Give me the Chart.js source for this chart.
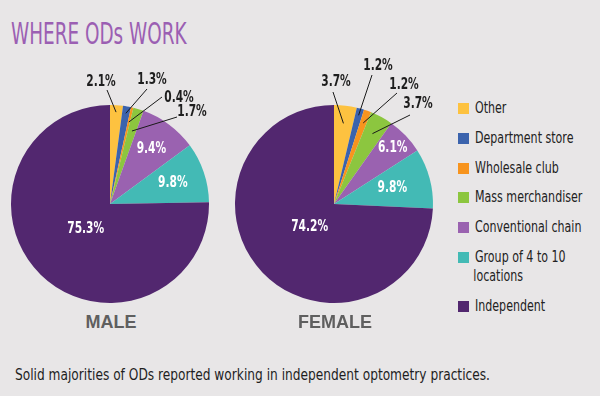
<!DOCTYPE html>
<html>
<head>
<meta charset="utf-8">
<script src="https://cdn.jsdelivr.net/npm/chart.js@4.4.1/dist/chart.umd.min.js"></script>
<style>
  html, body { margin:0; padding:0; }
  body { width:600px; height:396px; background:#e8e6e7; position:relative; overflow:hidden;
         font-family:"Liberation Sans Narrow","DejaVu Sans Condensed",sans-serif; }
  #title { position:absolute; left:11px; top:15px; font-size:31px; color:#9b5fb3; white-space:nowrap;
           transform:scaleX(0.66); transform-origin:0 0; }
  canvas { position:absolute; }
  #male { left:0; top:50px; }
  #female { left:224px; top:50px; }
  .pielabel { position:absolute; top:312px; width:120px; text-align:center;
              font:bold 18px "Liberation Sans", Arial, sans-serif; color:#5f5f5f; }
  #legend { position:absolute; left:458px; top:0; }
  .item { position:absolute; left:0; white-space:nowrap; font-size:15px; color:#222; line-height:19px; }
  .sw { position:absolute; left:0; top:4px; width:11px; height:11px; }
  .txt { position:absolute; left:17px; top:0; transform:scaleX(0.82); transform-origin:0 0; }
  #caption { position:absolute; left:15px; top:366px; font-size:15.5px; color:#1e1e1e; white-space:nowrap;
             transform:scaleX(0.875); transform-origin:0 0; }
</style>
</head>
<body>
<div id="title">WHERE ODs WORK</div>
<canvas id="male" width="230" height="260"></canvas>
<canvas id="female" width="230" height="260"></canvas>
<div class="pielabel" style="left:51px">MALE</div>
<div class="pielabel" style="left:275px">FEMALE</div>
<div id="legend"></div>
<div id="caption">Solid majorities of ODs reported working in independent optometry practices.</div>
<script>
const categories = ['Other', 'Department store', 'Wholesale club', 'Mass merchandiser', 'Conventional chain', 'Group of 4 to 10 locations', 'Independent'];
const maleValues = [2.1, 1.3, 0.4, 1.7, 9.4, 9.8, 75.3];
const femaleValues = [3.7, 1.2, 1.2, 3.7, 6.1, 9.8, 74.2];
const sliceColors = ['#fdc240', '#3b63ad', '#f7941e', '#8cc63f', '#9a62b0', '#43bab5', '#52276f'];

// label placement styles (relative to pie centre / slice)
const maleLabelStyle = [
  {out:true, tx:-9, ty:-122, lx:6, ly:8, f:0.93},
  {out:true, tx:42, ty:-124, lx:-5, ly:9, f:0.93},
  {out:true, tx:69, ty:-106, lx:-17, ly:-1, f:0.85},
  {out:true, tx:82, ty:-92, lx:-15, ly:5, f:0.77},
  {out:false, f:0.70},
  {out:false, f:0.67},
  {out:false, f:0.35}
];
const femaleLabelStyle = [
  {out:true, tx:2, ty:-122, lx:-3, ly:10, f:0.82},
  {out:true, tx:44, ty:-138, lx:-6, ly:9, f:0.93},
  {out:true, tx:70, ty:-119, lx:-7, ly:8, f:0.87},
  {out:true, tx:84, ty:-100, lx:-8, ly:11, f:0.81},
  {out:false, f:0.82},
  {out:false, f:0.61},
  {out:false, f:0.34}
];

function drawNarrow(ctx, text, x, y) {
  ctx.save();
  ctx.translate(x, y);
  ctx.scale(0.74, 1);
  ctx.fillText(text, 0, 0);
  ctx.restore();
}

const labelPlugin = {
  id: 'sliceLabels',
  afterDatasetsDraw(chart, args, opts) {
    const ctx = chart.ctx;
    const meta = chart.getDatasetMeta(0);
    const values = chart.data.datasets[0].data;
    const styles = opts.styles;
    ctx.save();
    ctx.font = 'bold 16px "Liberation Sans Narrow", "DejaVu Sans Condensed", sans-serif';
    ctx.textAlign = 'center';
    ctx.textBaseline = 'middle';
    meta.data.forEach((arc, i) => {
      const p = arc.getProps(['x', 'y', 'startAngle', 'endAngle', 'outerRadius'], true);
      const mid = (p.startAngle + p.endAngle) / 2;
      const s = styles[i];
      const ax = p.x + Math.cos(mid) * p.outerRadius * s.f;
      const ay = p.y + Math.sin(mid) * p.outerRadius * s.f;
      const text = values[i].toFixed(1) + '%';
      if (s.out) {
        const tx = p.x + s.tx, ty = p.y + s.ty;
        ctx.strokeStyle = '#1a1a1a';
        ctx.lineWidth = 1;
        ctx.beginPath();
        ctx.moveTo(tx + s.lx, ty + s.ly);
        ctx.lineTo(ax, ay);
        ctx.stroke();
        ctx.fillStyle = '#1e1e1e';
        drawNarrow(ctx, text, tx, ty);
      } else {
        ctx.fillStyle = '#ffffff';
        drawNarrow(ctx, text, ax, ay);
      }
    });
    ctx.restore();
  }
};

function makePie(id, values, styles) {
  return new Chart(document.getElementById(id), {
    type: 'pie',
    data: {
      labels: categories,
      datasets: [{ data: values, backgroundColor: sliceColors, borderWidth: 0 }]
    },
    options: {
      responsive: false,
      animation: false,
      layout: { padding: { left: 11, right: 21, top: 55, bottom: 7 } },
      plugins: {
        legend: { display: false },
        tooltip: { enabled: false },
        sliceLabels: { styles: styles }
      }
    },
    plugins: [labelPlugin]
  });
}

makePie('male', maleValues, maleLabelStyle);
makePie('female', femaleValues, femaleLabelStyle);

// legend
const legendRowsY = [99, 129, 159, 188, 218, 248, 297];
const legend = document.getElementById('legend');
categories.forEach((c, i) => {
  const d = document.createElement('div');
  d.className = 'item';
  d.style.top = legendRowsY[i] + 'px';
  const sw = document.createElement('div');
  sw.className = 'sw';
  sw.style.background = sliceColors[i];
  const t = document.createElement('div');
  t.className = 'txt';
  if (c === 'Group of 4 to 10 locations') {
    t.innerHTML = 'Group of 4 to 10<br><span style="margin-left:-2px">locations</span>';
  } else {
    t.textContent = c;
  }
  d.appendChild(sw);
  d.appendChild(t);
  legend.appendChild(d);
});
</script>
</body>
</html>
